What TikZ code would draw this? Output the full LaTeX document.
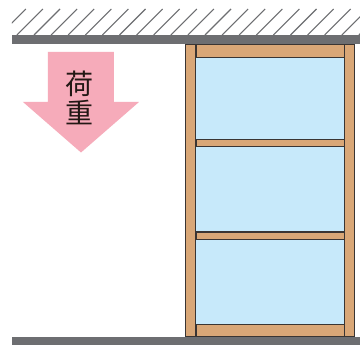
\documentclass[tikz,border=0pt]{standalone}
\usepackage{fontspec}
\newfontfamily\cjk{Noto Sans CJK JP}
\definecolor{slab}{HTML}{6D6E71}
\definecolor{wood}{HTML}{D9A777}
\definecolor{glass}{HTML}{C7E9FA}
\definecolor{edge}{HTML}{3A3533}
\definecolor{pinkarrow}{HTML}{F6ABBA}
\definecolor{labelink}{HTML}{231815}
\tikzset{
  slabbar/.style={fill=slab,draw=none},
  member/.style={fill=wood,draw=edge,line width=1.1pt},
  pane/.style={fill=glass,draw=none},
  hatchline/.style={draw=slab,line width=1.1pt},
  loadlabel/.style={font=\cjk\fontsize{28}{28}\selectfont,text=labelink,inner sep=0pt}
}
\begin{document}
\begin{tikzpicture}[x=1pt,y=-1pt]
\useasboundingbox (0,0) rectangle (360,345);
\fill[white] (0,0) rectangle (360,345);
% hatching
\begin{scope}
\clip (12,9) rectangle (360,35);
\foreach \i in {0,...,21}{
  \draw[hatchline] ({-0.2+17.1*\i},35) -- ({25.8+17.1*\i},9);
}
\end{scope}
% panes
\fill[pane] (196,57) rectangle (345,325);
% frame
\draw[member] (196,44.5) rectangle (344.5,57.3);
\draw[member] (196,139.3) rectangle (344.5,146.6);
\draw[member] (196,232) rectangle (344.5,239.2);
\draw[member] (196,324.5) rectangle (344.5,336.5);
\draw[member] (185.8,44.5) rectangle (195.8,336.5);
\draw[member] (344.5,44.5) rectangle (354.6,336.5);
% slabs
\fill[slabbar] (12,35) rectangle (360,44);
\fill[slabbar] (12,337) rectangle (360,345);
% load arrow
\fill[pinkarrow] (48,52) -- (114,52) -- (114,102) -- (139,102) -- (81,152.5) -- (23,102) -- (48,102) -- cycle;
\node[loadlabel] (load1) at (80,84) {荷};
\node[loadlabel] (load2) at (80,112) {重};
\end{tikzpicture}
\end{document}
